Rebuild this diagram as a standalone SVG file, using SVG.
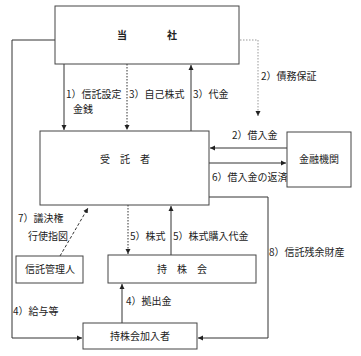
<svg xmlns="http://www.w3.org/2000/svg" width="361" height="356" viewBox="0 0 361 356">
<defs>
<marker id="ah" markerWidth="6" markerHeight="6" refX="5" refY="3" orient="auto" markerUnits="userSpaceOnUse">
<path d="M0,0.5 L5,3 L0,5.5 Z" fill="#222"/>
</marker>
</defs>
<style>
.box{fill:#fff;stroke:#444;stroke-width:1}
.ln{fill:none;stroke:#333;stroke-width:1}
.dot{fill:none;stroke:#333;stroke-width:1;stroke-dasharray:1.5,1.5}
.dash{fill:none;stroke:#333;stroke-width:1;stroke-dasharray:3,2}
text{font-family:"Noto Sans CJK JP","Noto Sans CJK SC",sans-serif;font-size:10px;fill:#222}
.c{text-anchor:middle}
</style>
<rect width="361" height="356" fill="#fff"/>
<g id="connectors">
<path class="ln" d="M55,40 H12 V338 H82" marker-end="url(#ah)"/>
<path class="ln" d="M64,64 V130" marker-end="url(#ah)"/>
<path class="dot" d="M127,64 V130" marker-end="url(#ah)"/>
<path class="ln" d="M191,131 V65" marker-end="url(#ah)"/>
<path d="M240,40 H258 V116" fill="none" stroke="#999" stroke-width="1" stroke-dasharray="1.5,1.5" marker-end="url(#ah)"/>
<path class="ln" d="M287,148 H210" stroke-width="1.5" marker-end="url(#ah)"/>
<path class="ln" d="M209,163 H286" marker-end="url(#ah)"/>
<path class="ln" d="M209,197 H268 V338 H198" marker-end="url(#ah)"/>
<path class="dash" d="M60,256 L88,208" marker-end="url(#ah)"/>
<path class="dot" d="M128,205 V254" marker-end="url(#ah)"/>
<path class="ln" d="M171,255 V206" marker-end="url(#ah)"/>
<path class="ln" d="M122,323 V284" marker-end="url(#ah)"/>
</g>
<g id="labels">
<text x="66" y="98">1）信託設定</text>
<text x="73" y="113">金銭</text>
<text x="129" y="98">3）自己株式</text>
<text x="193" y="98">3）代金</text>
<text x="261" y="80">2）債務保証</text>
<text x="232" y="139">2）借入金</text>
<text x="212" y="181">6）借入金の返済</text>
<text x="269" y="256">8）信託残余財産</text>
<text x="18" y="222">7）議決権</text>
<text x="28" y="240">行使指図</text>
<text x="130" y="240">5）株式</text>
<text x="173" y="240">5）株式購入代金</text>
<text x="126" y="305">4）拠出金</text>
<text x="13" y="315">4）給与等</text>
</g>
<g id="node-tousha">
<rect class="box" x="55" y="6" width="184" height="58"/>
<text x="122" y="39" class="c" style="font-weight:bold">当</text>
<text x="172" y="39" class="c" style="font-weight:bold">社</text>
</g>
<g id="node-jutakusha">
<rect class="box" x="40" y="131" width="169" height="74"/>
<text x="125" y="163" class="c">受　託　者</text>
</g>
<g id="node-kinyukikan">
<rect class="box" x="287" y="132" width="64" height="55"/>
<text x="319" y="163" class="c">金融機関</text>
</g>
<g id="node-shintakukanrinin">
<rect class="box" x="16" y="256" width="67" height="27"/>
<text x="50" y="273" class="c">信託管理人</text>
</g>
<g id="node-mochikabukai">
<rect class="box" x="108" y="255" width="148" height="28"/>
<text x="182" y="273" class="c">持　株　会</text>
</g>
<g id="node-kanyusha">
<rect class="box" x="83" y="323" width="114" height="26"/>
<text x="140" y="340" class="c">持株会加入者</text>
</g>
</svg>
